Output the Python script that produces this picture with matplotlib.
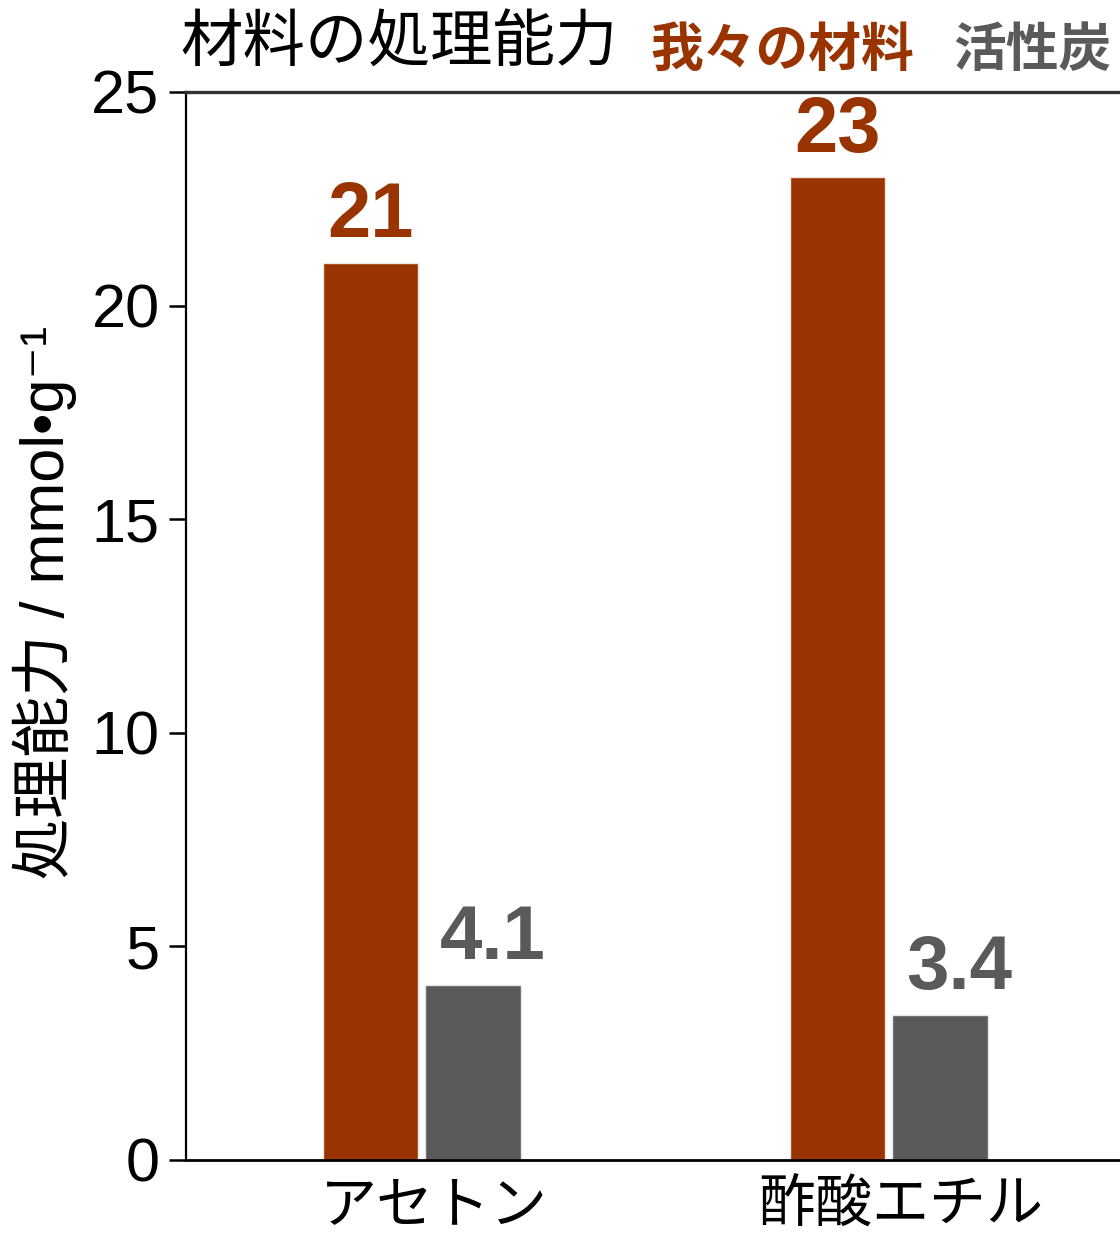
import matplotlib
matplotlib.use("Agg")
import matplotlib.pyplot as plt
import matplotlib.transforms as mtransforms
import numpy as np

# 吸着量データ (mmol/g)
solvents = ["アセトン", "酢酸エチル"]
ours = [21, 23]
carbon = [4.1, 3.4]
ours_labels = ["21", "23"]
carbon_labels = ["4.1", "3.4"]
yticks = [0, 5, 10, 15, 20, 25]

BROWN = "#993300"
GRAY = "#5a5a5a"
CJK = ["Noto Sans CJK JP", "DejaVu Sans"]
LATIN = ["Liberation Sans", "Noto Sans CJK JP", "DejaVu Sans"]


def main() -> None:
    fig = plt.figure(figsize=(11.2, 12.38), dpi=100)
    ax = fig.add_axes([186 / 1120, 78 / 1238, 934 / 1120, 1068 / 1238])

    x = np.arange(len(solvents))
    width = 0.205
    ax.bar(x - 0.105, ours, width=width, color=BROWN,
           edgecolor="#f2e6e0", linewidth=1.0)
    ax.bar(x + 0.115, carbon, width=width, color=GRAY,
           edgecolor="#e6e6e6", linewidth=1.0)

    for xi, v, lab in zip(x, ours, ours_labels):
        ax.annotate(lab, (xi - 0.105, v), xytext=(0, 7), textcoords="offset points",
                    ha="center", va="bottom", fontsize=56, fontweight="bold",
                    color=BROWN, family=LATIN)
    for xi, v, lab in zip(x, carbon, carbon_labels):
        ax.annotate(lab, (xi + 0.115, v), xytext=(14, 7), textcoords="offset points",
                    ha="center", va="bottom", fontsize=55, fontweight="bold",
                    color=GRAY, family=LATIN)

    ax.set_xlim(-0.5, 1.5)
    ax.set_ylim(0, 25)
    ax.set_yticks(yticks)
    ax.set_yticklabels([str(t) for t in yticks], fontsize=44, family=LATIN)
    ax.set_xticks(x)
    ax.set_xticklabels(solvents, fontsize=41, family=CJK)
    ax.tick_params(axis="y", length=12, width=1.8, pad=7)
    ax.tick_params(axis="x", length=0, pad=12)
    shift = mtransforms.ScaledTranslation(14 / 100, 0, fig.dpi_scale_trans)
    for lab in ax.get_xticklabels():
        lab.set_transform(lab.get_transform() + shift)

    ax.spines["right"].set_visible(False)
    ax.spines["left"].set_linewidth(1.6)
    ax.spines["bottom"].set_linewidth(2.0)
    ax.spines["top"].set_linewidth(2.4)
    ax.spines["top"].set_color("#333333")

    fig.text(45 / 1120, 1 - 602 / 1238, "処理能力 / mmol•g⁻¹", rotation=90,
             ha="center", va="center", fontsize=44, family=LATIN)

    fig.text(180 / 1120, 1 - 44 / 1238, "材料の処理能力", ha="left", va="center",
             fontsize=45, family=CJK)
    fig.text(650 / 1120, 1 - 50 / 1238, "我々の材料", ha="left", va="center",
             fontsize=38, fontweight="bold", color=BROWN, family=CJK)
    fig.text(953 / 1120, 1 - 50 / 1238, "活性炭", ha="left", va="center",
             fontsize=38, fontweight="bold", color=GRAY, family=CJK)

    fig.savefig("out.png", dpi=100)
    plt.close(fig)


if __name__ == "__main__":
    main()
